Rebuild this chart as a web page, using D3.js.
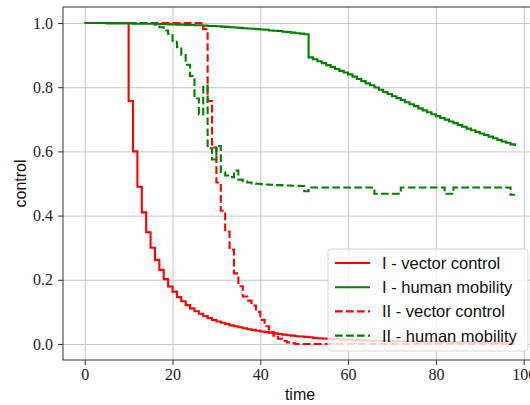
<!DOCTYPE html>
<html>
<head>
<meta charset="utf-8">
<script src="https://cdn.jsdelivr.net/npm/d3@7"></script>
<style>
  body { margin: 0; background: #fff; }
  .tick text { font-family: "Liberation Serif", serif; font-size: 16px; fill: #222; }
  .grid line { stroke: #c8c8c8; stroke-width: 1; }
  .grid path { display: none; }
</style>
</head>
<body>
<div id="chart-container"></div>
<script>
// STEP CHART - control over time

// Data (one value per time step, t = 0 .. 98)

var time = d3.range(0, 99);

var vectorI = [
    1, 1, 1, 1, 1, 1, 1, 1, 1, 1,
    0.757, 0.600, 0.490, 0.410, 0.348, 0.300, 0.262, 0.231, 0.202, 0.179,
    0.163, 0.146, 0.133, 0.121, 0.111, 0.102, 0.094, 0.087, 0.081, 0.075,
    0.070, 0.066, 0.062, 0.058, 0.055, 0.052, 0.049, 0.046, 0.044, 0.041,
    0.039, 0.037, 0.035, 0.033, 0.031, 0.029, 0.027, 0.026, 0.024, 0.023,
    0.022, 0.021, 0.019, 0.018, 0.017, 0.016, 0.015, 0.015, 0.014, 0.013,
    0.013, 0.012, 0.012, 0.011, 0.011, 0.010, 0.010, 0.010, 0.009, 0.009,
    0.009, 0.008, 0.008, 0.008, 0.008, 0.007, 0.007, 0.007, 0.007, 0.006,
    0.006, 0.006, 0.006, 0.006, 0.006, 0.005, 0.005, 0.005, 0.005, 0.005,
    0.005, 0.005, 0.004, 0.004, 0.004, 0.004, 0.004, 0.004, 0.004
];

var mobilityI = [
    1.000, 1.000, 1.000, 1.000, 1.000, 0.999, 0.999, 0.999, 0.999, 0.999,
    0.999, 0.998, 0.998, 0.998, 0.998, 0.998, 0.997, 0.997, 0.997, 0.996,
    0.996, 0.995, 0.995, 0.994, 0.994, 0.993, 0.993, 0.992, 0.991, 0.991,
    0.990, 0.989, 0.988, 0.987, 0.986, 0.985, 0.984, 0.983, 0.982, 0.981,
    0.980, 0.979, 0.977, 0.976, 0.975, 0.973, 0.972, 0.970, 0.968, 0.967,
    0.965, 0.893, 0.887, 0.881, 0.875, 0.869, 0.863, 0.857, 0.851, 0.846,
    0.840, 0.833, 0.826, 0.819, 0.812, 0.806, 0.799, 0.792, 0.785, 0.779,
    0.772, 0.766, 0.760, 0.753, 0.747, 0.741, 0.734, 0.728, 0.722, 0.716,
    0.710, 0.704, 0.699, 0.693, 0.688, 0.682, 0.677, 0.671, 0.666, 0.661,
    0.656, 0.651, 0.646, 0.641, 0.636, 0.631, 0.627, 0.622, 0.617
];

var vectorII = [
    1, 1, 1, 1, 1, 1, 1, 1, 1, 1,
    1, 1, 1, 1, 1, 1, 1, 1, 1, 1,
    1, 1, 1, 1, 1, 1, 1, 0.981, 0.757, 0.612,
    0.503, 0.415, 0.350, 0.294, 0.220, 0.180, 0.148, 0.135, 0.120, 0.100,
    0.075, 0.055, 0.038, 0.026, 0.016, 0.009, 0.005, 0.002, 0, 0,
    0, 0, 0, 0, 0, 0, 0, 0, 0, 0,
    0, 0, 0, 0, 0, 0, 0, 0, 0, 0,
    0, 0, 0, 0, 0, 0, 0, 0, 0, 0,
    0, 0, 0, 0, 0, 0, 0, 0, 0, 0,
    0, 0, 0, 0, 0, 0, 0, 0, 0
];

var mobilityII = [
    1, 1, 1, 1, 1, 1, 1, 1, 1, 1,
    1, 1, 1, 1, 1, 1, 0.995, 0.987, 0.977, 0.966,
    0.945, 0.925, 0.900, 0.870, 0.835, 0.765, 0.715, 0.805, 0.610, 0.575,
    0.617, 0.535, 0.525, 0.520, 0.540, 0.512, 0.507, 0.503, 0.500, 0.499,
    0.498, 0.497, 0.496, 0.495, 0.495, 0.494, 0.494, 0.493, 0.493, 0.492,
    0.476, 0.4875, 0.4875, 0.4875, 0.4875, 0.4875, 0.4875, 0.4875, 0.4875, 0.4875,
    0.4875, 0.4875, 0.4875, 0.4875, 0.4875, 0.4875, 0.468, 0.468, 0.468, 0.468,
    0.468, 0.468, 0.4875, 0.4875, 0.4875, 0.4875, 0.4875, 0.4875, 0.4875, 0.4875,
    0.4875, 0.4875, 0.468, 0.468, 0.4875, 0.4875, 0.4875, 0.4875, 0.4875, 0.4875,
    0.4875, 0.4875, 0.4875, 0.4875, 0.4875, 0.4875, 0.4875, 0.465, 0.465
];

var xTicks = [0, 20, 40, 60, 80, 100];
var yTicks = [0.0, 0.2, 0.4, 0.6, 0.8, 1.0];

var seriesNames = ["I - vector control", "I - human mobility", "II - vector control", "II - human mobility"];
var seriesValues = [vectorI, mobilityI, vectorII, mobilityII];
var seriesColors = ["#ff0000", "#008000", "#ff0000", "#008000"];
var seriesDashed = [false, false, true, true];

// Chart variables (the axes run past the right edge of the picture)

var svgWidth = 530, svgHeight = 405;
var margin = {top: 7, left: 63};
var width = 478;
var height = 353;

var svg = d3.select("#chart-container")
    .append("svg")
    .attr("width", svgWidth)
    .attr("height", svgHeight);

var chart = svg.append("g")
    .attr("transform", "translate(" + margin.left + "," + margin.top + ")");

// Scales

var xScale = d3.scaleLinear()
    .domain([-4.95, 103.95])
    .range([0, width]);

var yScale = d3.scaleLinear()
    .domain([-0.05, 1.05])
    .range([height, 0]);

// Grid

chart.append("g")
    .attr("class", "grid")
    .attr("transform", "translate(0," + height + ")")
    .call(d3.axisBottom(xScale).tickValues(xTicks).tickSize(-height).tickFormat(""));

chart.append("g")
    .attr("class", "grid")
    .call(d3.axisLeft(yScale).tickValues(yTicks).tickSize(-width).tickFormat(""));

// Lines

chart.append("clipPath")
    .attr("id", "plot-clip")
    .append("rect")
    .attr("width", width)
    .attr("height", height);

var line = d3.line()
    .curve(d3.curveStepAfter)
    .x(function(d, i) { return xScale(time[i]); })
    .y(function(d) { return yScale(d); });

var lines = chart.append("g").attr("clip-path", "url(#plot-clip)");

seriesValues.forEach(function(values, k) {
    lines.append("path")
        .datum(values)
        .attr("d", line)
        .attr("fill", "none")
        .attr("stroke", seriesColors[k])
        .attr("stroke-width", 2.1)
        .attr("stroke-dasharray", seriesDashed[k] ? "7.7,3.3" : null);
});

// Legend

var legend = chart.append("g")
    .attr("transform", "translate(" + (328 - margin.left) + "," + (249 - margin.top) + ")");

legend.append("rect")
    .attr("width", 200)
    .attr("height", 102)
    .attr("rx", 3)
    .attr("fill", "#fff")
    .attr("fill-opacity", 0.8)
    .attr("stroke", "#d5d5d5")
    .attr("stroke-width", 1);

seriesNames.forEach(function(name, k) {
    var y = 14 + k * 24.2;
    legend.append("line")
        .attr("x1", 7).attr("x2", 42)
        .attr("y1", y).attr("y2", y)
        .attr("stroke", seriesColors[k])
        .attr("stroke-width", 2.1)
        .attr("stroke-dasharray", seriesDashed[k] ? "7.7,3.3" : null);
    legend.append("text")
        .attr("x", 54)
        .attr("y", y)
        .attr("dy", "0.36em")
        .attr("font-family", "Liberation Sans, Arial, sans-serif")
        .attr("font-size", 16.5)
        .attr("fill", "#111")
        .text(name);
});

// Frame

chart.append("rect")
    .attr("width", width)
    .attr("height", height)
    .attr("fill", "none")
    .attr("stroke", "#333")
    .attr("stroke-width", 1);

// Axes

var xAxis = chart.append("g")
    .attr("transform", "translate(0," + height + ")")
    .call(d3.axisBottom(xScale).tickValues(xTicks).tickSize(5).tickPadding(4).tickFormat(d3.format("d")));

var yAxis = chart.append("g")
    .call(d3.axisLeft(yScale).tickValues(yTicks).tickSize(5).tickPadding(5).tickFormat(d3.format(".1f")));

[xAxis, yAxis].forEach(function(a) {
    a.select(".domain").remove();
    a.selectAll(".tick line").attr("stroke", "#333");
    a.attr("font-family", null).attr("font-size", null);
});

// Axis labels

svg.append("text")
    .attr("x", 300)
    .attr("y", 400)
    .attr("text-anchor", "middle")
    .attr("font-family", "Liberation Sans, Arial, sans-serif")
    .attr("font-size", 16)
    .attr("fill", "#111")
    .text("time");

svg.append("text")
    .attr("transform", "translate(26," + (margin.top + height / 2) + ") rotate(-90)")
    .attr("text-anchor", "middle")
    .attr("font-family", "Liberation Sans, Arial, sans-serif")
    .attr("font-size", 16)
    .attr("fill", "#111")
    .text("control");
</script>
</body>
</html>
